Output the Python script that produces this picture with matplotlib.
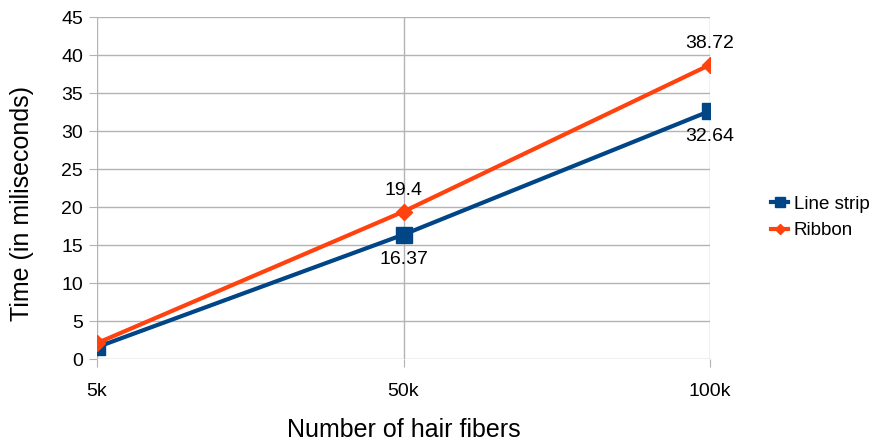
import matplotlib
matplotlib.use("Agg")
import matplotlib.pyplot as plt

plt.rcParams['font.family'] = ['Liberation Sans', 'DejaVu Sans']

categories = ['5k', '50k', '100k']
line_strip = [1.56, 16.37, 32.64]
ribbon = [2.09, 19.4, 38.72]
# which points carry a value label
labeled = [1, 2]

fig = plt.figure(figsize=(8.77, 4.44), dpi=100)
ax = fig.add_axes([0.1106, 0.1914, 0.6990, 0.7703])

x = list(range(len(categories)))
ax.plot(x, line_strip, color='#004586', linewidth=3, marker='s', markersize=11,
        label='Line strip', zorder=3)
ax.plot(x, ribbon, color='#ff420e', linewidth=3, marker='D', markersize=8,
        label='Ribbon', zorder=4)

for i in labeled:
    ax.annotate(f'{ribbon[i]:g}', (x[i], ribbon[i]), textcoords='offset points',
                xytext=(0, 9), ha='center', va='bottom', fontsize=14)
    ax.annotate(f'{line_strip[i]:g}', (x[i], line_strip[i]), textcoords='offset points',
                xytext=(0, -12), ha='center', va='top', fontsize=14)

ax.set_xlim(0, len(categories) - 1)
ax.set_ylim(0, 45)
ax.set_yticks(range(0, 46, 5))
ax.set_xticks(x)
ax.set_xticklabels(categories)
ax.grid(True, color='#b3b3b3', linewidth=1)
ax.set_axisbelow(True)
for s in ax.spines.values():
    s.set_visible(False)
ax.tick_params(axis='both', length=6, color='#b3b3b3', labelsize=14, pad=4)
ax.tick_params(axis='x', pad=11)

ax.set_xlabel('Number of hair fibers', fontsize=18)
ax.set_ylabel('Time (in miliseconds)', fontsize=18)
ax.xaxis.set_label_coords(0.5, -0.172)
ax.yaxis.set_label_coords(-0.103, 0.455)

fig.legend(loc='center left', bbox_to_anchor=(0.86, 0.51), frameon=False,
           fontsize=13.5, handlelength=0.9, handletextpad=0.3, labelspacing=0.5,
           markerscale=0.65)

fig.savefig('out.png', dpi=100)
